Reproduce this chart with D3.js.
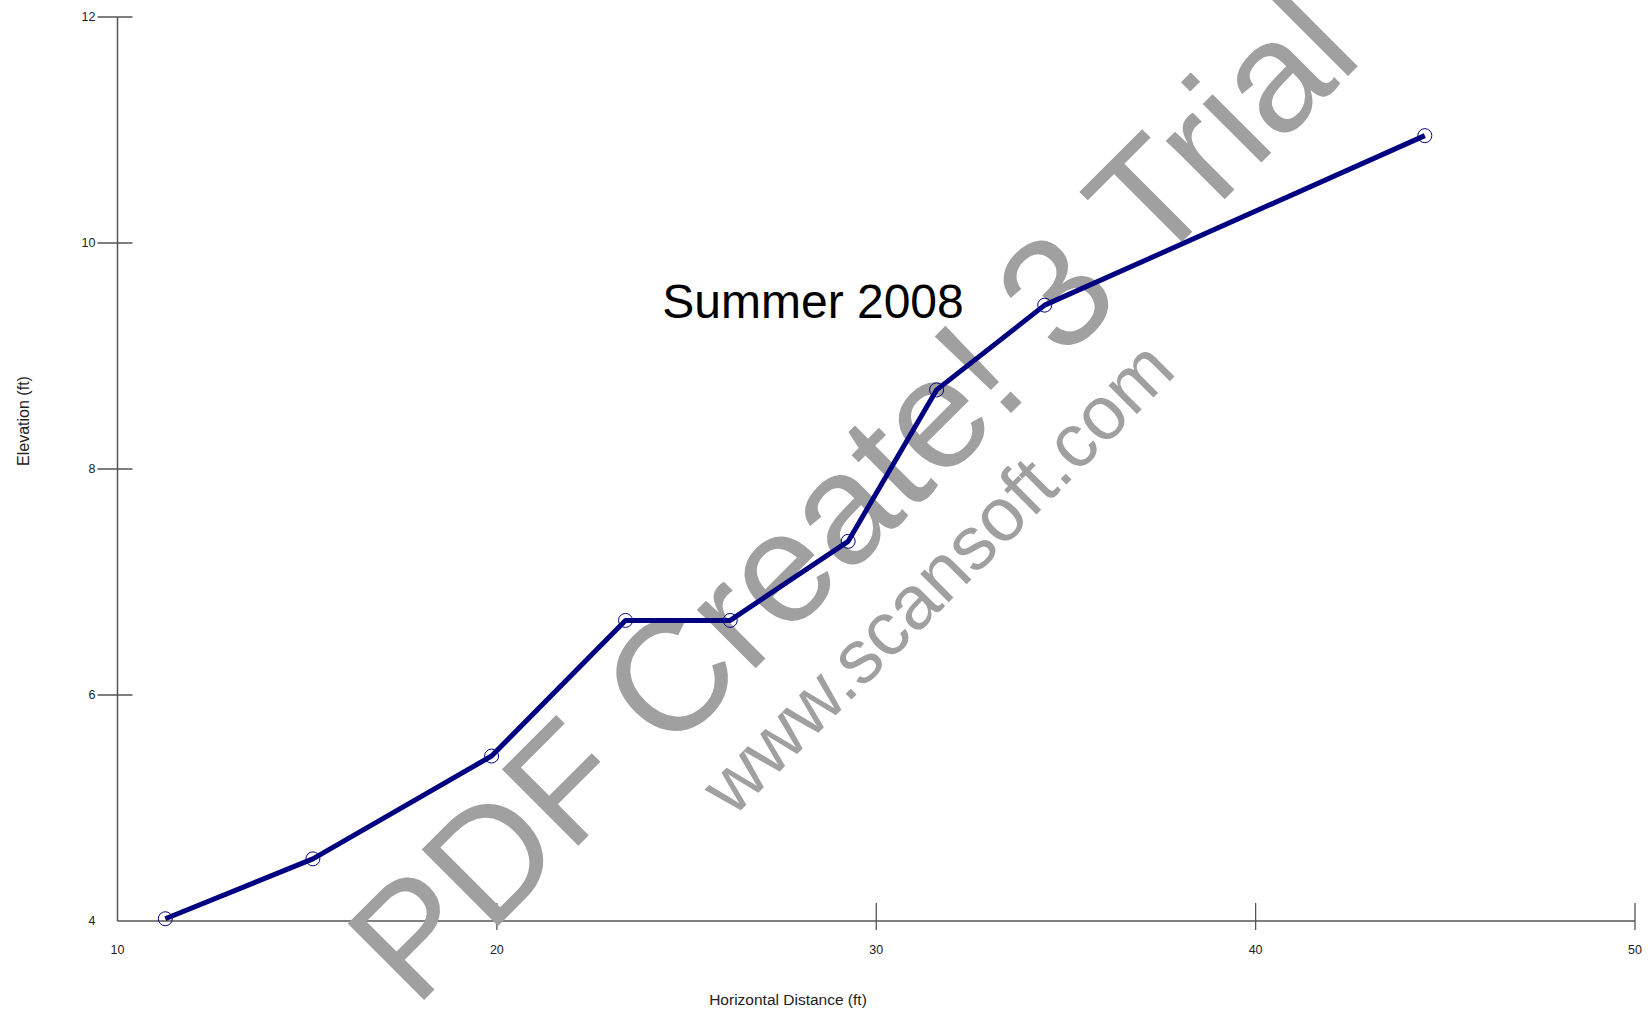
<!DOCTYPE html>
<html>
<head>
<meta charset="utf-8">
<script src="https://cdn.jsdelivr.net/npm/d3@7"></script>
<style>
  html, body { margin: 0; padding: 0; background: #fff; }
  svg { display: block; font-family: "Liberation Sans", Arial, sans-serif; }
</style>
</head>
<body>
<svg id="chart" width="1650" height="1011"></svg>
<script>
// ---- data ----
const distance  = [11.26, 15.15, 19.86, 23.39, 26.15, 29.26, 31.59, 34.44, 44.46];
const elevation = [4.02, 4.55, 5.46, 6.66, 6.66, 7.36, 8.70, 9.45, 10.95];
const xTicks = [10, 20, 30, 40, 50];
const yTicks = [4, 6, 8, 10, 12];
const titleText = "Summer 2008";
const xLabel = "Horizontal Distance (ft)";
const yLabel = "Elevation (ft)";
const watermark1 = "PDF Create! 3 Trial";
const watermark2 = "www.scansoft.com";

const svg = d3.select("#chart");
const x = d3.scaleLinear().domain([10, 50]).range([117.5, 1635]);
const y = d3.scaleLinear().domain([4, 12]).range([921, 17]);
const axisColor = "#555";

// axes
const gx = svg.append("g").attr("transform", `translate(0,${y(4)})`);
gx.append("line").attr("x1", x(10)).attr("x2", x(50)).attr("stroke", axisColor).attr("stroke-width", 1.5);
gx.selectAll(".tk").data(xTicks.filter(d => d !== 10)).join("line")
  .attr("x1", d => x(d)).attr("x2", d => x(d)).attr("y1", -18).attr("y2", 9)
  .attr("stroke", axisColor).attr("stroke-width", 1.3);
gx.selectAll(".tl").data(xTicks).join("text")
  .attr("x", d => x(d)).attr("y", 32.5).attr("text-anchor", "middle")
  .attr("font-size", 12.5).attr("fill", "#222").text(d => d);

const gy = svg.append("g").attr("transform", `translate(${x(10)},0)`);
gy.append("line").attr("y1", y(12)).attr("y2", y(4)).attr("stroke", axisColor).attr("stroke-width", 1.5);
gy.selectAll(".tk").data(yTicks.filter(d => d !== 4)).join("line")
  .attr("y1", d => y(d)).attr("y2", d => y(d)).attr("x1", -20).attr("x2", 15)
  .attr("stroke", axisColor).attr("stroke-width", 1.3);
gy.selectAll(".tl").data(yTicks).join("text")
  .attr("x", -22).attr("y", d => y(d)).attr("dy", "0.35em").attr("text-anchor", "end")
  .attr("font-size", 12.5).attr("fill", "#222").text(d => d);

// axis labels
svg.append("text").attr("x", 788).attr("y", 1005).attr("text-anchor", "middle")
  .attr("font-size", 15.5).attr("fill", "#222").text(xLabel);
svg.append("text").attr("transform", "translate(29,421) rotate(-90)").attr("text-anchor", "middle")
  .attr("font-size", 16).attr("fill", "#222").text(yLabel);

// watermark
svg.append("text").attr("transform", "translate(415,1009) rotate(-45)")
  .attr("font-size", 157).attr("fill", "#a0a0a0").text(watermark1);
svg.append("text").attr("transform", "translate(733,818) rotate(-45)")
  .attr("font-size", 76).attr("fill", "#a0a0a0").text(watermark2);

// title
svg.append("text").attr("x", 813).attr("y", 318).attr("text-anchor", "middle")
  .attr("font-size", 48).attr("fill", "#000").text(titleText);

// line + markers
const pts = distance.map((d, i) => [d, elevation[i]]);
svg.append("path").datum(pts)
  .attr("d", d3.line().x(d => x(d[0])).y(d => y(d[1])))
  .attr("fill", "none").attr("stroke", "#000080").attr("stroke-width", 5)
  .attr("stroke-linejoin", "round");
svg.selectAll(".pt").data(pts).join("circle")
  .attr("cx", d => x(d[0])).attr("cy", d => y(d[1])).attr("r", 7)
  .attr("fill", "none").attr("stroke", "#000080").attr("stroke-width", 1);
</script>
</body>
</html>
